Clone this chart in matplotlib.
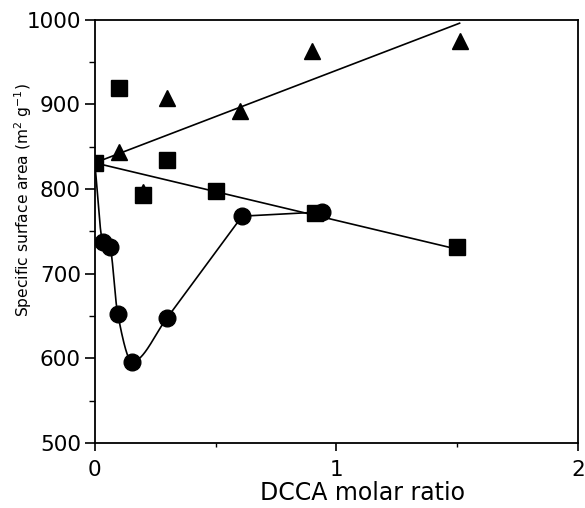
import numpy as np
import matplotlib
matplotlib.use('Agg')
import matplotlib.pyplot as plt

# squares
sq_x = [0.0, 0.1, 0.2, 0.3, 0.5, 0.91, 1.5]
sq_y = [831, 920, 793, 834, 798, 772, 731]
sq_fit_x = [0.0, 1.5]
sq_fit_y = [831, 729]

# triangles
tri_x = [0.1, 0.2, 0.3, 0.6, 0.9, 1.51]
tri_y = [844, 797, 908, 892, 963, 975]
tri_fit_x = [0.0, 1.51]
tri_fit_y = [831, 996]

# circles (first point shared with the square at 0)
circ_x = [0.0, 0.033, 0.062, 0.095, 0.155, 0.30, 0.61, 0.94]
circ_y = [831, 738, 732, 652, 596, 648, 768, 773]


def pchip(x, y, xs):
    """monotone cubic through the points, only used to draw the curve"""
    x = np.asarray(x, float)
    y = np.asarray(y, float)
    h = np.diff(x)
    d = np.diff(y) / h
    m = np.zeros_like(y)
    for k in range(1, len(x) - 1):
        if d[k - 1] * d[k] > 0:
            w1 = 2 * h[k] + h[k - 1]
            w2 = h[k] + 2 * h[k - 1]
            m[k] = (w1 + w2) / (w1 / d[k - 1] + w2 / d[k])
    m[0] = d[0]
    m[-1] = d[-1]
    out = np.empty_like(xs)
    for j, xv in enumerate(xs):
        k = min(np.searchsorted(x, xv, side='right') - 1, len(x) - 2)
        t = (xv - x[k]) / h[k]
        h00 = 2 * t**3 - 3 * t**2 + 1
        h10 = t**3 - 2 * t**2 + t
        h01 = -2 * t**3 + 3 * t**2
        h11 = t**3 - t**2
        out[j] = (h00 * y[k] + h10 * h[k] * m[k]
                  + h01 * y[k + 1] + h11 * h[k] * m[k + 1])
    return out


plt.rcParams['font.family'] = 'DejaVu Sans'

fig = plt.figure(figsize=(5.85, 5.08), dpi=100)
ax = fig.add_axes([0.162, 0.128, 0.826, 0.833])

# smooth part up to x=0.3, straight segments after it
n = 6
xs = np.linspace(circ_x[0], circ_x[n - 1], 300)
curve_x = np.concatenate([xs, circ_x[n:]])
curve_y = np.concatenate([pchip(circ_x[:n], circ_y[:n], xs), circ_y[n:]])
ax.plot(curve_x, curve_y, color='black', lw=1.2, zorder=2)
ax.plot(sq_fit_x, sq_fit_y, color='black', lw=1.2, zorder=2)
ax.plot(tri_fit_x, tri_fit_y, color='black', lw=1.2, zorder=2)

ax.plot(circ_x[1:], circ_y[1:], 'o', color='black', ms=12, zorder=3)
ax.plot(sq_x, sq_y, 's', color='black', ms=11, zorder=4)
ax.plot(tri_x, tri_y, '^', color='black', ms=12, zorder=5)

ax.set_xlim(0, 2)
ax.set_ylim(500, 1000)
ax.set_xticks([0, 1, 2])
ax.set_xticks([0.5, 1.5], minor=True)
ax.set_yticks([500, 600, 700, 800, 900, 1000])
ax.set_yticks([550, 650, 750, 850, 950], minor=True)

ax.tick_params(axis='x', which='major', direction='out', length=6,
               width=1.2, pad=6, labelsize=15.5)
ax.tick_params(axis='x', which='minor', direction='out', length=3, width=1.0)
ax.tick_params(axis='y', which='major', direction='out', length=7,
               width=1.2, pad=3, labelsize=15.5)
ax.tick_params(axis='y', which='minor', direction='out', length=4, width=1.0)

for s in ax.spines.values():
    s.set_linewidth(1.3)

ax.set_xlabel('DCCA molar ratio', fontsize=17)
ax.xaxis.set_label_coords(0.555, -0.09)
ax.set_ylabel('Specific surface area (m$^2$ g$^{-1}$)', fontsize=11.2)
ax.yaxis.set_label_coords(-0.125, 0.574)

fig.savefig('out.png', dpi=100)
